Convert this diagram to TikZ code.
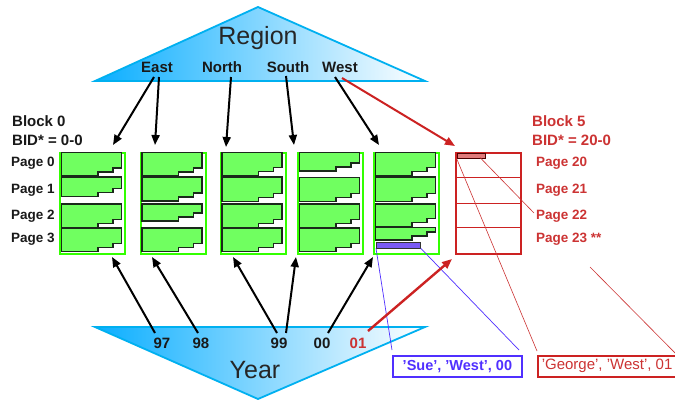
\documentclass[tikz,border=0pt]{standalone}
\usepackage{fontspec}
\setmainfont{Liberation Sans}
\usetikzlibrary{arrows.meta}
\definecolor{sky}{HTML}{0AAEFF}
\definecolor{skyline}{HTML}{00B0F0}
\definecolor{pagefill}{HTML}{70FF60}
\definecolor{blockgreen}{HTML}{33FF00}
\definecolor{pageline}{HTML}{1A2A1A}
\definecolor{arrred}{HTML}{CC2222}
\definecolor{redtext}{HTML}{CC3333}
\definecolor{violet}{HTML}{5030FF}
\definecolor{violetfill}{HTML}{7A5AF5}
\definecolor{salmon}{HTML}{E07A7A}
\tikzset{
  lbl/.style={font=\fontsize{15}{15}\selectfont\bfseries, text=black!90, inner sep=0pt},
  pagelbl/.style={font=\fontsize{13.5}{13.5}\selectfont\bfseries, text=black!90, inner sep=0pt, anchor=west},
  redlbl/.style={font=\fontsize{15}{15}\selectfont\bfseries, text=redtext, inner sep=0pt, anchor=west},
  redpagelbl/.style={font=\fontsize{13.5}{13.5}\selectfont\bfseries, text=redtext, inner sep=0pt, anchor=west},
  big/.style={font=\fontsize{25}{25}\selectfont, text=black!85, inner sep=0pt},
  blk/.style={draw=blockgreen, line width=2.4pt, minimum width=65pt, minimum height=101pt, inner sep=0pt, anchor=north west},
  redblk/.style={draw=arrred, line width=2.4pt, minimum width=65pt, minimum height=101pt, inner sep=0pt, anchor=north west},
  pagestyle/.style={fill=pagefill, draw=pageline, line width=1.3pt, line join=miter},
  arr/.style={line width=2pt, -{Triangle[length=10pt,width=8pt]}},
  redarr/.style={arr, draw=arrred, fill=arrred},
  thinred/.style={draw=redtext, line width=0.6pt},
  thinviolet/.style={draw=violet, line width=0.7pt},
  tri/.style={draw=skyline, line width=1.8pt, line join=miter},
}
\newcommand\pg[3]{%
  \filldraw[pagestyle] ({#1+2.5},{#2}) -- ({#1+62.5},{#2}) -- ({#1+62.5},{#3-8}) -- ({#1+54},{#3-8}) -- ({#1+54},{#3-4}) -- ({#1+39},{#3-4}) -- ({#1+39},{#3}) -- ({#1+2.5},{#3}) -- cycle;}
\begin{document}
\begin{tikzpicture}[x=1pt,y=-1pt]
\clip (0,0) rectangle (675,400);
\fill[white] (0,0) rectangle (675,400);

% Region triangle
\shade[left color=sky, right color=white] (95,81) -- (258,7) -- (425,81) -- cycle;
\draw[tri] (95,81) -- (258,7) -- (425,81) -- cycle;
\node[big] (region) at (258,38) {Region};
\node[lbl] (east) at (157,67) {East};
\node[lbl] (north) at (222,67) {North};
\node[lbl] (south) at (288,67) {South};
\node[lbl] (west) at (340,67) {West};

% Year triangle
\shade[left color=sky, right color=white] (95,327) -- (425,327) -- (258,399) -- cycle;
\draw[tri] (95,327) -- (425,327) -- (258,399) -- cycle;
\node[big] (year) at (255,370) {Year};
\node[lbl] (y97) at (162,343) {97};
\node[lbl] (y98) at (201,343) {98};
\node[lbl] (y99) at (279,343) {99};
\node[lbl] (y00) at (322,343) {00};
\node[lbl, text=redtext] (y01) at (358,343) {01};

% left labels
\node[lbl, anchor=west] (blk0) at (12,121) {Block 0};
\node[lbl, anchor=west] (bid0) at (12,140) {BID* = 0-0};
\node[pagelbl] (p0) at (11,163) {Page 0};
\node[pagelbl] (p1) at (11,190) {Page 1};
\node[pagelbl] (p2) at (11,216) {Page 2};
\node[pagelbl] (p3) at (11,239) {Page 3};

% green blocks
\node[blk] (b0) at (59,152) {};
\node[blk] (b1) at (139.5,152) {};
\node[blk] (b2) at (219.5,152) {};
\node[blk] (b3) at (297,152) {};
\node[blk] (b4) at (373,152) {};

\pg{59}{152.5}{176}\pg{59}{177}{196.5}\pg{59}{204}{227.5}\pg{59}{228}{251.5}
\pg{139.5}{152.5}{176}\pg{139.5}{177}{201}\pg{139.5}{204}{221}\pg{139.5}{228}{251.5}
\pg{219.5}{152.5}{175.5}\pg{219.5}{177}{201.5}\pg{219.5}{204}{227.5}\pg{219.5}{228}{251.5}
\pg{297}{152.5}{171}\pg{297}{177.5}{201.5}\pg{297}{204}{227.5}\pg{297}{228}{251.5}
\pg{373}{152.5}{175.5}\pg{373}{177}{201.5}\pg{373}{204}{226.5}\pg{373}{227.5}{240}

% violet row
\node[draw=black!80, fill=violetfill, line width=0.8pt, minimum width=44pt, minimum height=6pt, inner sep=0pt, anchor=north west] (sue row) at (376,241.5) {};

% red block
\node[redblk] (b5) at (455,152) {};
\draw[draw=arrred, line width=0.9pt] (b5.west |- 0,177) -- (b5.east |- 0,177);
\draw[draw=arrred, line width=0.9pt] (b5.west |- 0,203) -- (b5.east |- 0,203);
\draw[draw=arrred, line width=0.9pt] (b5.west |- 0,227) -- (b5.east |- 0,227);
\node[draw=black!70!red, fill=salmon, line width=0.8pt, minimum width=28pt, minimum height=5pt, inner sep=0pt, anchor=north west] (george row) at (456.5,152.5) {};

% right labels
\node[redlbl] (blk5) at (532,121) {Block 5};
\node[redlbl] (bid5) at (532,140) {BID* = 20-0};
\node[redpagelbl] (p20) at (536,163) {Page 20};
\node[redpagelbl] (p21) at (536,190) {Page 21};
\node[redpagelbl] (p22) at (536,216) {Page 22};
\node[redpagelbl] (p23) at (536,239) {Page 23 **};

% rows
\node[draw=violet, line width=1.8pt, text=violet, font=\fontsize{14.5}{14.5}\selectfont\bfseries, minimum width=129pt, minimum height=21pt, inner sep=0pt, anchor=north west] (sue) at (392,355) {'Sue', 'West', 00};
\node[draw=arrred, line width=1.6pt, text=redtext, font=\fontsize{15}{15}\selectfont, minimum height=21pt, inner xsep=4pt, inner ysep=0pt, anchor=north west] (george) at (537,355) {'George', 'West', 01\phantom{00}};

% coordinates for connectors
\coordinate (e1) at (154,77); \coordinate (e1t) at (113,145);
\coordinate (e2) at (159,77); \coordinate (e2t) at (155,145);
\coordinate (n1) at (231,77); \coordinate (n1t) at (226,147);
\coordinate (s1) at (286,76); \coordinate (s1t) at (294,145);
\coordinate (w1) at (335,77); \coordinate (w1t) at (379,145);
\coordinate (w2) at (342,78); \coordinate (w2t) at (455,146);

\coordinate (a97) at (155,333); \coordinate (a97t) at (112,257);
\coordinate (a98) at (198,333); \coordinate (a98t) at (152,257);
\coordinate (a99) at (277,333); \coordinate (a99t) at (233,257);
\coordinate (b99) at (286,333); \coordinate (b99t) at (296,257);
\coordinate (a00) at (328,333); \coordinate (a00t) at (373,257);
\coordinate (a01) at (368,331); \coordinate (a01t) at (452,259);

\coordinate (sueL) at (392,350); \coordinate (sueR) at (519,350);
\coordinate (georgeL) at (537,351);
\coordinate (p22in) at (534,213);
\coordinate (farA) at (590,267); \coordinate (farB) at (684,362);

% thin lines
\draw[thinviolet] (sue row.south west) -- (sueL);
\draw[thinviolet] (sue row.south east) -- (sueR);
\draw[thinred] (george row.south west) -- (georgeL);
\draw[thinred] (480,157.5) -- (p22in);
\draw[thinred] (farA) -- (farB);

% arrows
\draw[arr] (e1) -- (e1t);
\draw[arr] (e2) -- (e2t);
\draw[arr] (n1) -- (n1t);
\draw[arr] (s1) -- (s1t);
\draw[arr] (w1) -- (w1t);
\draw[redarr] (w2) -- (w2t);
\draw[arr] (a97) -- (a97t);
\draw[arr] (a98) -- (a98t);
\draw[arr] (a99) -- (a99t);
\draw[arr] (b99) -- (b99t);
\draw[arr] (a00) -- (a00t);
\draw[redarr, line width=2.4pt] (a01) -- (a01t);
\end{tikzpicture}
\end{document}
